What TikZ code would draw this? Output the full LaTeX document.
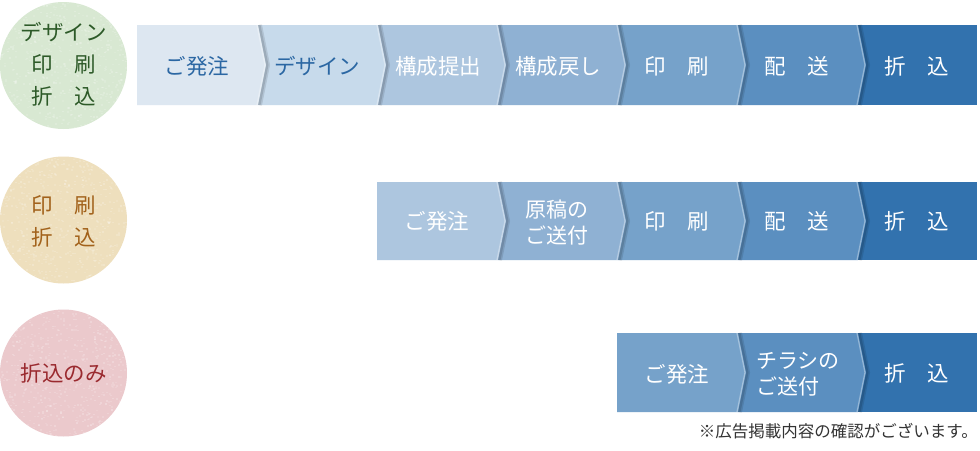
\documentclass[tikz,border=0pt]{standalone}
\usepackage{fontspec}
\setmainfont{Noto Sans CJK JP}
\definecolor{cA}{HTML}{DDE7F1}
\definecolor{cB}{HTML}{C7DAEB}
\definecolor{cC}{HTML}{ADC6DF}
\definecolor{cD}{HTML}{8FB1D3}
\definecolor{cE}{HTML}{76A2CA}
\definecolor{cF}{HTML}{5B8FC0}
\definecolor{cG}{HTML}{3272AE}
\definecolor{tBlue}{HTML}{2B67A3}
\definecolor{gFill}{HTML}{D8E8D2}
\definecolor{gText}{HTML}{2D5A28}
\definecolor{yFill}{HTML}{EEDFBD}
\definecolor{yText}{HTML}{A2621B}
\definecolor{pFill}{HTML}{EBC9CC}
\definecolor{pText}{HTML}{9A2A2F}
\definecolor{noteText}{HTML}{333333}
\newcommand{\chevseg}[5]{% x0, x1, top, bottom, colour (with chevron)
  \pgfmathsetmacro\segmid{(#3+#4)/2}
  \draw[black,opacity=.10,line width=6pt] (#2+1,#3) -- (#2+9,\segmid) -- (#2+1,#4);
  \draw[black,opacity=.12,line width=3pt] (#2+1,#3) -- (#2+9,\segmid) -- (#2+1,#4);
  \fill[#5] (#1,#3) -- (#2,#3) -- (#2+8,\segmid) -- (#2,#4) -- (#1,#4) -- cycle;
  \draw[white,opacity=.35,line width=1.2pt] (#2-1,#3) -- (#2+7,\segmid) -- (#2-1,#4);
}
\newcommand{\flatseg}[5]{\fill[#5] (#1,#3) rectangle (#2,#4);}
\newcommand{\grain}[3]{% cx, cy, r : paper texture
  \begin{scope}
    \clip (#1,#2) circle (#3);
    \foreach \k in {1,...,700}{
      \pgfmathsetmacro\gx{#1+rand*#3}
      \pgfmathsetmacro\gy{#2+rand*#3}
      \pgfmathsetmacro\go{0.10+0.12*rnd}
      \fill[white,opacity=\go] (\gx,\gy) rectangle ++(2,1.5);
    }
  \end{scope}
}
\tikzset{
  lbl/.style={font=\fontsize{21.5}{26}\selectfont, text=white, inner sep=0pt},
  lbldark/.style={lbl, text=tBlue},
  lbltwo/.style={font=\fontsize{21}{26}\selectfont, text=white, align=left, inner sep=0pt},
  badge/.style={circle, minimum size=127pt, inner sep=0pt, align=center, font=\fontsize{21.5}{32}\selectfont},
  note/.style={font=\fontsize{16.5}{18}\selectfont, text=noteText, inner sep=0pt, anchor=east}
}
\begin{document}
\begin{tikzpicture}[x=1pt,y=-1pt]
\pgfmathsetseed{7}
\useasboundingbox (0,0) rectangle (980,450);
\fill[white] (0,0) rectangle (980,450);
% badges
\fill[gFill] (63.5,65.5) circle (63.5);
\grain{63.5}{65.5}{63.5}
\fill[yFill] (63.5,220) circle (63.5);
\grain{63.5}{220}{63.5}
\fill[pFill] (63.5,373) circle (63.5);
\grain{63.5}{373}{63.5}
\node[badge, text=gText] (b1) at (63.5,64.5) {デザイン\\印　刷\\折　込};
\node[badge, text=yText] (b2) at (63.5,221) {印　刷\\折　込};
\node[badge, text=pText] (b3) at (63.5,373) {折込のみ};
% row 1
\flatseg{858}{977}{25}{105}{cG}
\chevseg{738}{858}{25}{105}{cF}
\chevseg{618}{738}{25}{105}{cE}
\chevseg{498}{618}{25}{105}{cD}
\chevseg{378}{498}{25}{105}{cC}
\chevseg{258}{378}{25}{105}{cB}
\chevseg{137}{258}{25}{105}{cA}
\node[lbldark] (r1a) at (197,66) {ご発注};
\node[lbldark] (r1b) at (317,66) {デザイン};
\node[lbl] (r1c) at (438,66) {構成提出};
\node[lbl] (r1d) at (558,66) {構成戻し};
\node[lbl] (r1e) at (677,66) {印　刷};
\node[lbl] (r1f) at (797,66) {配　送};
\node[lbl] (r1g) at (917,66) {折　込};
% row 2
\flatseg{858}{977}{182}{260}{cG}
\chevseg{738}{858}{182}{260}{cF}
\chevseg{618}{738}{182}{260}{cE}
\chevseg{498}{618}{182}{260}{cD}
\chevseg{377}{498}{182}{260}{cC}
\node[lbl] (r2a) at (437,221) {ご発注};
\node[lbltwo] (r2b) at (557,223) {原稿の\\ご送付};
\node[lbl] (r2c) at (677,221) {印　刷};
\node[lbl] (r2d) at (797,221) {配　送};
\node[lbl] (r2e) at (917,221) {折　込};
% row 3
\flatseg{858}{977}{333}{412}{cG}
\chevseg{738}{858}{333}{412}{cF}
\chevseg{617}{738}{333}{412}{cE}
\node[lbl] (r3a) at (677,374) {ご発注};
\node[lbltwo] (r3b) at (798,374) {チラシの\\ご送付};
\node[lbl] (r3c) at (917,373) {折　込};
% note
\node[note] (nt) at (978,431) {※広告掲載内容の確認がございます。};
\end{tikzpicture}
\end{document}
